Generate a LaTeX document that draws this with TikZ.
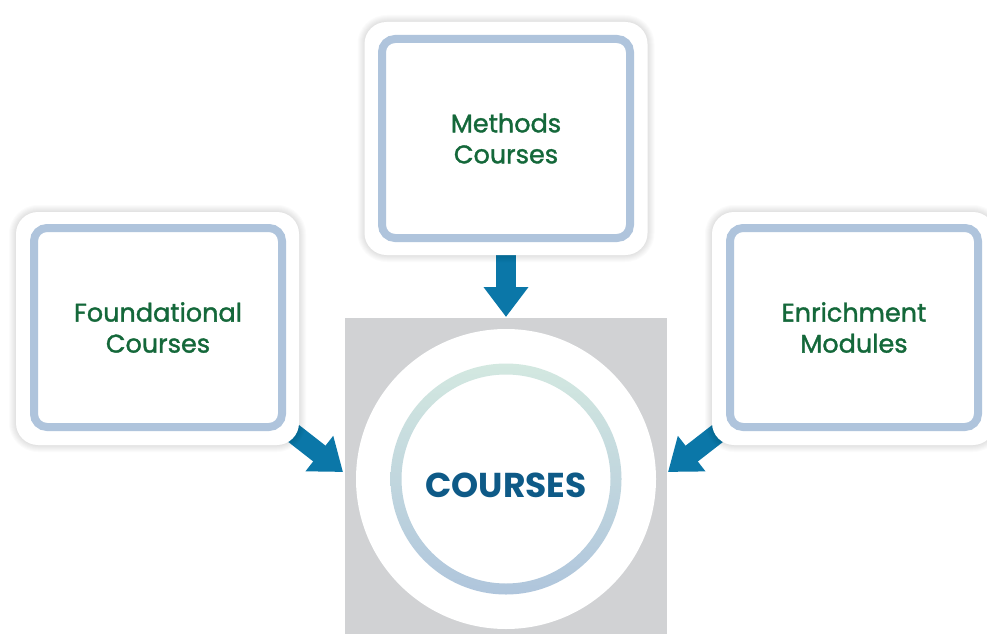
\documentclass[tikz,border=0pt]{standalone}
\usepackage{fontspec}
\setmainfont{Poppins}
\newfontfamily\labfont{Poppins}[FakeBold=1.4]
\usetikzlibrary{arrows.meta,calc}
\definecolor{boxblue}{HTML}{AFC4DC}
\definecolor{labgreen}{HTML}{14683A}
\definecolor{arrblue}{HTML}{0B77A8}
\definecolor{coursblue}{HTML}{0E5A87}
\definecolor{sqgray}{HTML}{D1D2D4}
\definecolor{ringtop}{HTML}{D3E8E0}
\definecolor{ringbot}{HTML}{AFC5DC}
\tikzset{
  outerbox/.style={fill=white, rounded corners=22pt, minimum width=283pt, minimum height=233pt, inner sep=0pt},
  innerbox/.style={draw=boxblue, line width=8pt, fill=white, rounded corners=13pt, minimum width=248pt, minimum height=199pt, inner sep=0pt, align=center, font=\labfont\fontsize{25.5}{31}\selectfont, text=labgreen},
  bigarrow/.style={draw=arrblue, line width=20pt, -{Triangle[length=30pt,width=43pt]}},
}
\newcommand\boxshadow[1]{%
  \foreach \i in {1,...,7}{%
    \fill[black, opacity=0.014, rounded corners=22pt+\i pt]
      ($(#1)+(-141.5-\i,-116.5-\i)$) rectangle ($(#1)+(141.5+\i,116.5+\i)$);
  }%
}
\begin{document}
\begin{tikzpicture}[x=1pt,y=-1pt]
\useasboundingbox (0,0) rectangle (987,634);
% centre square and circle
\node[fill=sqgray, minimum width=322pt, minimum height=316pt, inner sep=0pt] (sq) at (506,476) {};
\node[circle, fill=white, minimum size=300pt, inner sep=0pt] (wc) at (506,479) {};
\shade[top color=ringtop, bottom color=ringbot, even odd rule] (wc.center) circle (115.5) (wc.center) circle (104.5);
\node[anchor=base, text=coursblue, font=\fontsize{34.5}{34.5}\selectfont\bfseries] (courses) at (506,497.5) {COURSES};
% anchor coordinates
\coordinate (fc) at (158,327.5);
\coordinate (mc) at (506,138.5);
\coordinate (ec) at (854,327.5);
\coordinate (ftip) at (343,472);
\coordinate (mtip) at (506,317);
\coordinate (etip) at (668,472);
% arrows (behind boxes)
\draw[bigarrow] (fc) -- (ftip);
\draw[bigarrow] (mc) -- (mtip);
\draw[bigarrow] (ec) -- (etip);
% boxes
\boxshadow{157.5,328.5}
\node[outerbox] (fo) at (157.5,328.5) {};
\node[innerbox] (found) at (fc) {Foundational\\Courses};
\boxshadow{506,138.5}
\node[outerbox] (mo) at (506,138.5) {};
\node[innerbox] (methods) at (mc) {Methods\\Courses};
\boxshadow{853.5,328.5}
\node[outerbox] (eo) at (853.5,328.5) {};
\node[innerbox] (enrich) at (ec) {Enrichment\\Modules};
\end{tikzpicture}
\end{document}
